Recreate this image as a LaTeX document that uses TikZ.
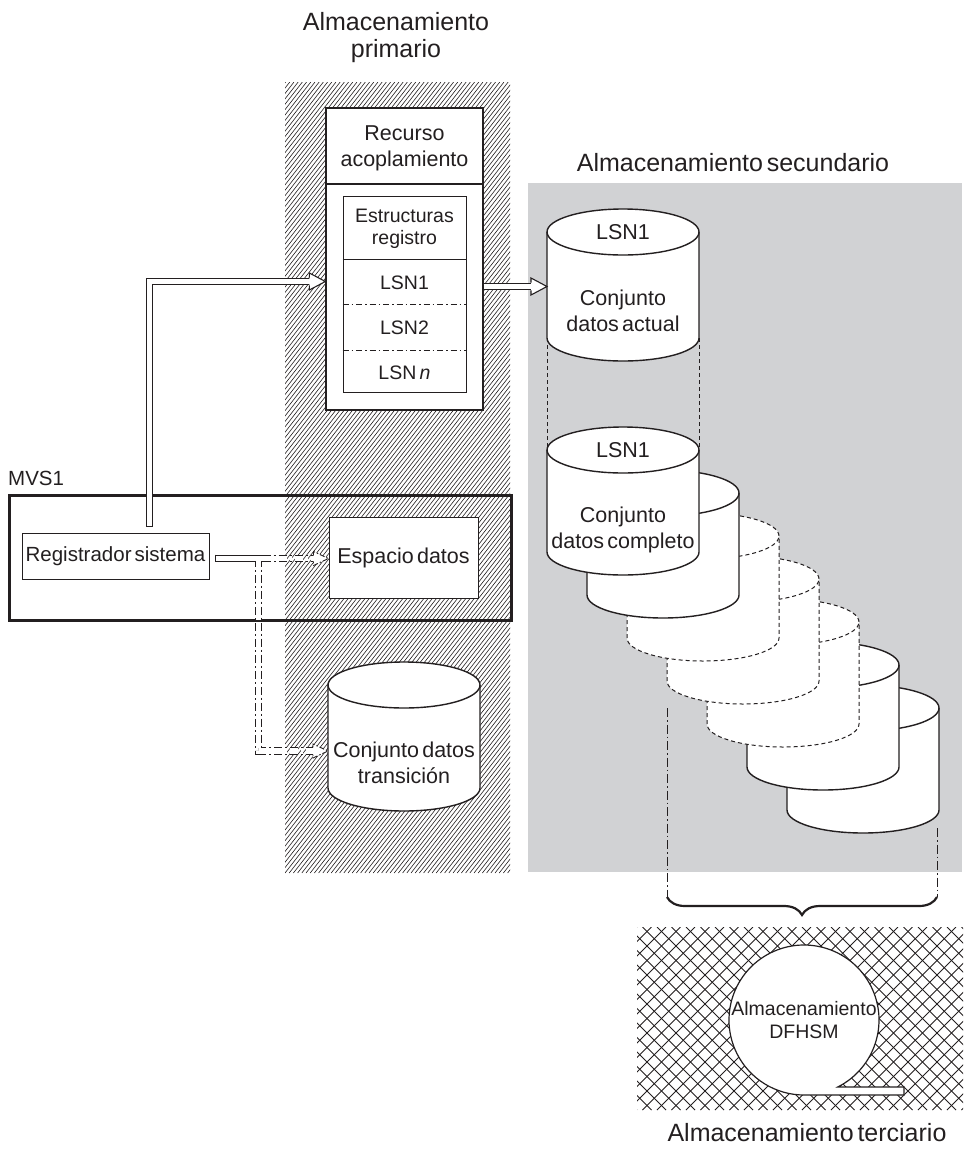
\documentclass[tikz,border=0pt]{standalone}
\usepackage{fontspec}
\setmainfont{Liberation Sans}[WordSpace=0.55]
\usetikzlibrary{decorations.pathreplacing,calc}
\definecolor{ink}{HTML}{231F20}
\definecolor{sgray}{HTML}{D1D2D4}
\tikzset{
  box/.style={draw=ink, fill=white, line width=1.3pt, inner sep=0pt},
  thinbox/.style={draw=ink, fill=white, line width=1pt, inner sep=0pt},
  big/.style={align=center, inner sep=0pt, font=\fontsize{25}{27}\selectfont},
  med/.style={align=center, inner sep=0pt, font=\fontsize{21.5}{26}\selectfont},
  sml/.style={align=center, inner sep=0pt, font=\fontsize{19.5}{22.5}\selectfont},
  hollow/.style={draw=ink, double=white, line width=1.1pt, double distance=5.4pt},
  ddhollow/.style={draw=ink, double=white, line width=0.9pt, double distance=5.6pt, dash pattern=on 8pt off 3pt on 2pt off 3pt},
  dashdot/.style={draw=ink, line width=0.9pt, dash pattern=on 9pt off 3pt on 1.5pt off 3pt},
  lsnline/.style={draw=ink, line width=0.8pt, dash pattern=on 6pt off 3pt on 1.5pt off 3pt},
  cylsolid/.style={draw=ink, line width=1.4pt},
  cyldash/.style={draw=ink, line width=1pt, dash pattern=on 4pt off 3pt},
  hhead/.pic={\filldraw[fill=white, draw=ink, line width=1.1pt] (-16,-3.8) -- (-16,-8.5) -- (0,0) -- (-16,8.5) -- (-16,3.8);},
  ddhead/.pic={\filldraw[fill=white, draw=ink, line width=0.9pt, dash pattern=on 5pt off 2pt on 1.5pt off 2pt] (-15,-3.7) -- (-15,-7) -- (0,0) -- (-15,7) -- (-15,3.7);},
}
% #1 name of left-middle coordinate, #2 left x, #3 top-centre y, #4 bottom-centre y, #5 style
\newcommand\mycyl[5]{%
  \filldraw[fill=white, #5] (#2,#3) -- (#2,#4)
     arc[start angle=180, end angle=360, x radius=76pt, y radius=23pt]
     -- ({#2+152},#3)
     arc[start angle=0, end angle=180, x radius=76pt, y radius=23pt] -- cycle;
  \draw[#5] (#2,#3) arc[start angle=180, end angle=360, x radius=76pt, y radius=23pt];
  \coordinate (#1) at ({#2},{(#3+#4)/2});
}
\begin{document}
\begin{tikzpicture}[x=1pt, y=-1pt, every node/.style={text=ink}]
\useasboundingbox (0,0) rectangle (964,1152);

% secondary storage area
\fill[sgray] (528,183) rectangle (962,872);
% primary storage hatch
\begin{scope}
  \clip (285,82) rectangle (510,873);
  \foreach \i in {-150,...,56} \draw[ink, line width=0.6pt] ({285+4.2*\i},873) -- ++(618,-791);
\end{scope}
% tertiary storage crosshatch
\begin{scope}
  \clip (637,927) rectangle (963,1110);
  \foreach \i in {0,...,36} {
    \draw[ink, line width=0.8pt] ({454+14.5*\i},1110) -- ++(183,-183);
    \draw[ink, line width=0.8pt] ({454+14.5*\i},927) -- ++(183,183);
  }
\end{scope}

% region labels
\node[big] (prim) at (396,38) {Almacenamiento\\primario};
\node[big] (sec) at (733,163) {Almacenamiento secundario};
\node[big] (ter) at (807,1133) {Almacenamiento terciario};

% coupling facility
\node[box, minimum width=157pt, minimum height=302pt] (cf) at (404.5,259) {};
\draw[ink, line width=1.2pt] (cf.west |- 0,184) -- (cf.east |- 0,184);
\node[med] (cft) at (404.5,148) {Recurso\\acoplamiento};
\node[thinbox, minimum width=123pt, minimum height=196pt] (lr) at (404.5,294) {};
\draw[ink, line width=1pt] (lr.west |- 0,259) -- (lr.east |- 0,259);
\draw[lsnline] (lr.west |- 0,304) -- (lr.east |- 0,304);
\draw[lsnline] (lr.west |- 0,350) -- (lr.east |- 0,350);
\node[sml] (est) at (404.5,229) {Estructuras\\registro};
\node[sml] (lsn1) at (404.5,283) {LSN1};
\node[sml] (lsn2) at (404.5,328) {LSN2};
\node[sml] (lsnn) at (404.5,373) {LSN\,\textit{n}};

% MVS1
\node[draw=ink, line width=3pt, minimum width=502pt, minimum height=125pt, inner sep=0pt] (mvs) at (260,557.5) {};
\node[med, font=\fontsize{20.5}{24}\selectfont, anchor=west] (mvsl) at (8,478) {MVS1};
\node[thinbox, minimum width=187pt, minimum height=46pt, font=\fontsize{20.5}{24}\selectfont] (reg) at (115.5,556) {Registrador sistema};
\node[thinbox, minimum width=149pt, minimum height=81pt, font=\fontsize{21.5}{26}\selectfont] (esp) at (403.5,557.5) {Espacio datos};

% staging data set
\mycyl{tc}{328}{685}{788}{cylsolid}
\node[med] (tct) at (404,763) {Conjunto datos\\transición};

% hollow arrow system logger -> coupling facility
\coordinate (a1s) at (149.5,523.5);
\coordinate (a1b) at ($(cf.west |- 0,281.5)+(-16,0)$);
\draw[hollow, line cap=rect] (a1s) |- (a1b);
\pic at (cf.west |- 0,281.5) {hhead};

% dash-dot arrows to data space and staging data set
\coordinate (d0) at (215,558.5);
\coordinate (split) at (258.5,558.5);
\draw[ddhollow] (split) |- ($(tc |- 0,751)+(-15,0)$);
\draw[hollow] (d0) -- (split) -- ++(4,0);
\draw[ddhollow] ($(split)+(4,0)$) -- ($(esp.west |- split)+(-15,0)$);
\fill[white] (255.6,557) rectangle (261.4,563.5);
\draw[ink, line width=1.1pt] (215.5,554.7) -- (215.5,562.3);
\pic at (esp.west |- split) {ddhead};
\pic at (tc |- 0,751) {ddhead};

% current data set
\draw[cyldash] (547,338) -- (547,450);
\draw[cyldash] (699,338) -- (699,450);
\mycyl{c1}{547}{232}{338}{cylsolid}
\node[med] (c1a) at (623,232) {LSN1};
\node[med] (c1b) at (623,311) {Conjunto\\datos actual};

% stack of full data sets
\foreach \k/\st in {6/cylsolid,5/cylsolid,4/cyldash,3/cyldash,2/cyldash,1/cylsolid,0/cylsolid} {
  \mycyl{s\k}{547+40*\k}{450+43*\k}{552+43*\k}{\st}
}
\node[med] (s0a) at (623,450) {LSN1};
\node[med] (s0b) at (623,530) {Conjunto\\datos completo};

% hollow arrow coupling facility -> current data set
\draw[hollow] (cf.east |- 0,286.5) -- ($(c1 |- 0,286.5)+(-16,0)$);
\pic at (c1 |- 0,286.5) {hhead};

% brace to tertiary storage
\coordinate (bl) at (667,897);
\coordinate (br) at (937,897);
\draw[dashdot] (s3 |- 0,708) -- (bl);
\draw[dashdot] (937,828) -- (br);
\draw[ink, line width=2.2pt, decorate, decoration={brace, mirror, amplitude=18pt}] (bl) -- (br);

% tape
\filldraw[fill=white, draw=ink, line width=1.2pt] (837.7,1087) arc[start angle=-63.3, end angle=270, radius=75pt] -- (904,1095) -- (904,1087) -- cycle;
\node[sml] (tape) at (804,1020) {Almacenamiento\\DFHSM};
\end{tikzpicture}
\end{document}
